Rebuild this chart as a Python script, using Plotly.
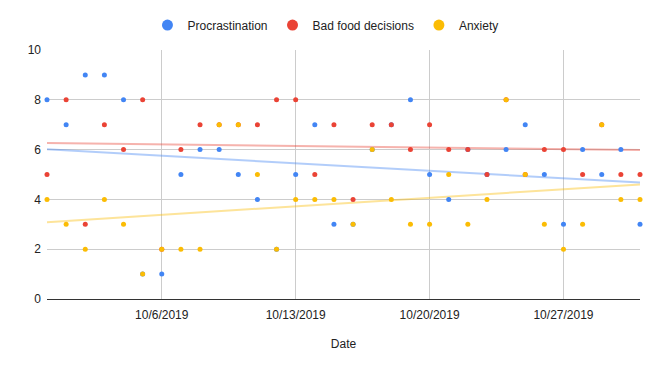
import numpy as np
import pandas as pd
import plotly.graph_objects as go

dates = pd.date_range("2019-09-30", "2019-10-31", freq="D")

procrastination = [8, 7, 9, 9, 8, 1, 1, 5, 6, 6, 5, 4, 2, 5, 7, 3,
                   3, 6, 7, 8, 5, 4, 6, 5, 6, 7, 5, 3, 6, 5, 6, 3]
bad_food = [5, 8, 3, 7, 6, 8, 2, 6, 7, 7, 7, 7, 8, 8, 5, 7,
            4, 7, 7, 6, 7, 6, 6, 5, 8, 5, 6, 6, 5, 7, 5, 5]
anxiety = [4, 3, 2, 4, 3, 1, 2, 2, 2, 7, 7, 5, 2, 4, 4, 4,
           3, 6, 4, 3, 3, 5, 3, 4, 8, 5, 3, 2, 3, 7, 4, 4]

series = [
    ("Procrastination", procrastination, "#4285F4"),
    ("Bad food decisions", bad_food, "#EA4335"),
    ("Anxiety", anxiety, "#FBBC04"),
]

tick_vals = ["2019-10-06", "2019-10-13", "2019-10-20", "2019-10-27"]
tick_text = ["10/6/2019", "10/13/2019", "10/20/2019", "10/27/2019"]

fig = go.Figure()
t = np.arange(len(dates))
for name, vals, color in series:
    slope, intercept = np.polyfit(t, vals, 1)
    trend = slope * t + intercept
    fig.add_trace(go.Scatter(
        x=dates, y=trend, mode="lines", line=dict(color=color, width=2),
        opacity=0.4, showlegend=False, hoverinfo="skip"))

for name, vals, color in series:
    fig.add_trace(go.Scatter(
        x=dates, y=vals, mode="markers", name=name, legendgroup=name,
        showlegend=False,
        marker=dict(color=color, size=5), cliponaxis=False))

# legend entries with larger symbols
for name, vals, color in series:
    fig.add_trace(go.Scatter(
        x=[None], y=[None], mode="markers", name=name, legendgroup=name,
        marker=dict(color=color, size=11), hoverinfo="skip"))

fig.update_layout(
    width=660, height=371,
    margin=dict(l=39, r=28, t=42, b=80, autoexpand=False),
    paper_bgcolor="white", plot_bgcolor="white",
    font=dict(family="Liberation Sans, Arial, sans-serif", size=12, color="#222"),
    legend=dict(orientation="h", x=0.481, xanchor="center", xref="container",
                y=0.954, yanchor="middle", yref="container",
                font=dict(size=12, color="#222"), itemwidth=30,
                traceorder="normal"),
    xaxis=dict(
        range=["2019-09-30", "2019-10-31"],
        tickvals=tick_vals, ticktext=tick_text,
        showgrid=True, gridcolor="#cccccc", gridwidth=1,
        showline=True, linecolor="#333333", linewidth=1,
        zeroline=False, ticks="", automargin=False,
        ticklabelstandoff=5,
        title=dict(text="Date", font=dict(size=12, color="#222"), standoff=18),
    ),
    yaxis=dict(
        range=[0, 10], dtick=2, tick0=0,
        showgrid=True, gridcolor="#cccccc", gridwidth=1,
        zeroline=False, showline=False, ticks="", automargin=False,
        ticklabelstandoff=5,
    ),
)

fig.write_html("out.html")
